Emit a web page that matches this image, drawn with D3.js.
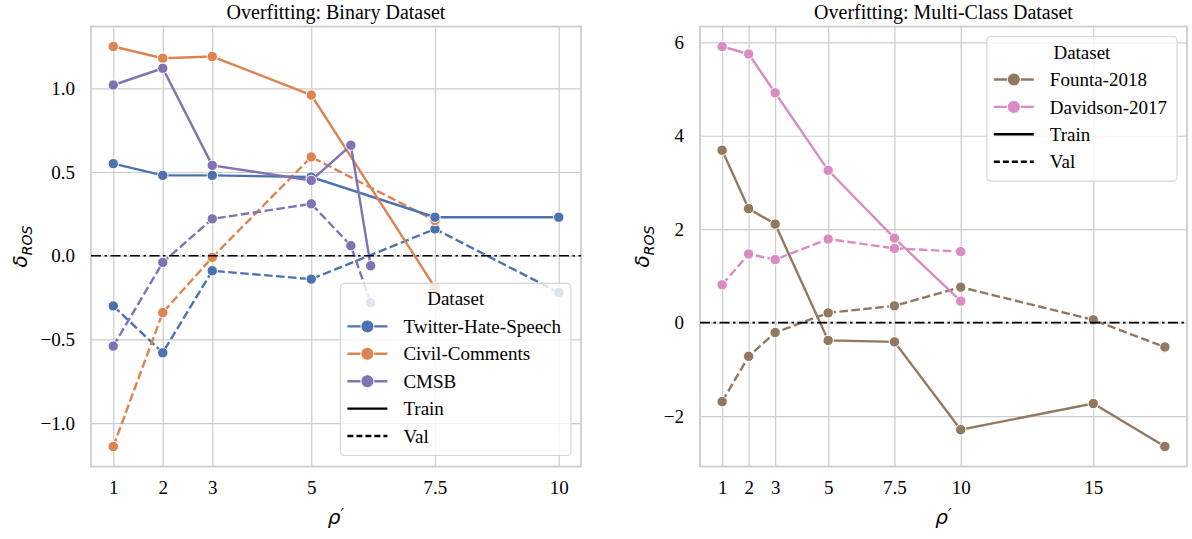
<!DOCTYPE html>
<head>
<meta charset="utf-8">
<style>
body { margin: 0; background: #fff; }
text { font-family: "Liberation Serif", "Times New Roman", serif; fill: #000; }
.tick line { stroke: #cccccc; stroke-width: 1.2px; }
.domain { display: none; }
.math { font-family: "DejaVu Sans", sans-serif; font-style: italic; }
</style>
</head>
<body>
<script src="https://cdn.jsdelivr.net/npm/d3@7"></script>
<script>

// binary dataset panel
var binaryTicks = [1, 2, 3, 5, 7.5, 10];
var binaryYTicks = [-1.0, -0.5, 0.0, 0.5, 1.0];

var twitterX = [1, 2, 3, 5, 7.5, 10];
var twitterTrain = [0.55, 0.48, 0.48, 0.47, 0.23, 0.23];
var twitterVal = [-0.30, -0.58, -0.09, -0.14, 0.16, -0.22];

var civilX = [1, 2, 3, 5, 7.5];
var civilTrain = [1.25, 1.18, 1.19, 0.96, -0.19];
var civilVal = [-1.14, -0.34, -0.01, 0.59, 0.21];

var cmsbX = [1, 2, 3, 5, 5.8, 6.2];
var cmsbTrain = [1.02, 1.12, 0.54, 0.45, 0.66, -0.06];
var cmsbVal = [-0.54, -0.04, 0.22, 0.31, 0.06, -0.28];

// multi-class dataset panel
var multiTicks = [1, 2, 3, 5, 7.5, 10, 15];
var multiYTicks = [-2, 0, 2, 4, 6];

var fountaX = [1, 2, 3, 5, 7.5, 10, 15, 17.7];
var fountaTrain = [3.69, 2.44, 2.11, -0.38, -0.41, -2.29, -1.73, -2.65];
var fountaVal = [-1.69, -0.72, -0.21, 0.21, 0.36, 0.76, 0.06, -0.52];

var davidsonX = [1, 2, 3, 5, 7.5, 10];
var davidsonTrain = [5.91, 5.75, 4.92, 3.26, 1.81, 0.46];
var davidsonVal = [0.81, 1.47, 1.35, 1.79, 1.59, 1.52];

var width = 1192, height = 539;

var svg = d3.select("body").append("svg")
    .attr("width", width)
    .attr("height", height);

function drawPanel(p) {
  var g = svg.append("g");
  var allX = [], allY = [];
  p.series.forEach(function(s) {
    allX = allX.concat(s.x);
    allY = allY.concat(s.train, s.val);
  });
  // 5% margins like matplotlib autoscale
  var xe = d3.extent(allX), ye = d3.extent(allY);
  var xp = (xe[1] - xe[0]) * 0.05, yp = (ye[1] - ye[0]) * 0.05;

  var x = d3.scaleLinear().domain([xe[0] - xp, xe[1] + xp]).range([p.left, p.right]);
  var y = d3.scaleLinear().domain([ye[0] - yp, ye[1] + yp]).range([p.bottom, p.top]);

  // grid + tick labels
  var xAxis = g.append("g")
      .attr("transform", "translate(0," + p.bottom + ")")
      .call(d3.axisBottom(x).tickValues(p.xTicks).tickSize(-(p.bottom - p.top)).tickPadding(14)
        .tickFormat(function(d) { return String(d); }));
  xAxis.selectAll("text").style("font-size", "19px").attr("dy", "0.71em");

  var yAxis = g.append("g")
      .attr("transform", "translate(" + p.left + ",0)")
      .call(d3.axisLeft(y).tickValues(p.yTicks).tickSize(-(p.right - p.left)).tickPadding(16)
        .tickFormat(function(d) {
          var s = p.yDec ? Math.abs(d).toFixed(1) : String(Math.abs(d));
          return (d < 0 ? "\u2212" : "") + s;
        }));
  yAxis.selectAll("text").style("font-size", "19px");
  g.selectAll(".tick text").attr("fill", "#000");
  g.selectAll("g[fill]").attr("font-family", null).attr("font-size", null);

  // frame
  g.append("rect")
      .attr("x", p.left).attr("y", p.top)
      .attr("width", p.right - p.left).attr("height", p.bottom - p.top)
      .attr("fill", "none").attr("stroke", "#cccccc").attr("stroke-width", 1.8);

  var line = d3.line();

  // val lines first, then train
  ["val", "train"].forEach(function(kind) {
    p.series.forEach(function(s) {
      var pts = s.x.map(function(xv, i) { return [x(xv), y(s[kind][i])]; });
      g.append("path")
          .attr("d", line(pts))
          .attr("fill", "none")
          .attr("stroke", s.color)
          .attr("stroke-width", 2.4)
          .attr("stroke-dasharray", kind === "val" ? "8.5,3.5" : null);
      g.selectAll(null).data(pts).enter().append("circle")
          .attr("cx", function(d) { return d[0]; })
          .attr("cy", function(d) { return d[1]; })
          .attr("r", 5.2)
          .attr("fill", s.color)
          .attr("stroke", "#fff")
          .attr("stroke-width", 1);
    });
  });

  // zero line
  g.append("line")
      .attr("x1", p.left).attr("x2", p.right)
      .attr("y1", y(0)).attr("y2", y(0))
      .attr("stroke", "#000").attr("stroke-width", 1.6)
      .attr("stroke-dasharray", "10,3.5,2.5,3.5");

  // title
  g.append("text")
      .attr("x", (p.left + p.right) / 2).attr("y", 19)
      .attr("text-anchor", "middle")
      .style("font-size", "20px")
      .text(p.title);

  // axis labels
  var xl = g.append("text").attr("class", "math")
      .attr("x", (p.left + p.right) / 2).attr("y", 524)
      .attr("text-anchor", "middle")
      .style("font-size", "20px");
  xl.append("tspan").text("\u03c1");
  xl.append("tspan").attr("dy", -4).style("font-size", "16px").text("\u2032");

  var yl = g.append("text").attr("class", "math")
      .attr("transform", "translate(" + p.ylabelX + "," + ((p.top + p.bottom) / 2) + ") rotate(-90)")
      .attr("text-anchor", "middle")
      .style("font-size", "20px");
  yl.append("tspan").text("\u03b4");
  yl.append("tspan").attr("dy", 5).style("font-size", "14px").text("ROS");

  // legend
  var items = p.series.map(function(s) { return {label: s.name, color: s.color, marker: true, dash: null}; });
  items.push({label: "Train", color: "#000", marker: false, dash: null});
  items.push({label: "Val", color: "#000", marker: false, dash: "6,3"});

  var leg = g.append("g");
  var box = leg.append("rect")
      .attr("fill", "#fff").attr("fill-opacity", 0.8)
      .attr("stroke", "#d6d6d6").attr("stroke-width", 1.2)
      .attr("rx", 4);
  var ttl = leg.append("text").style("font-size", "19px").attr("text-anchor", "middle").text("Dataset");
  var maxW = 0;
  items.forEach(function(it, i) {
    var cy = 43 + i * 27.4;
    leg.append("line")
        .attr("x1", 7).attr("x2", 47).attr("y1", cy).attr("y2", cy)
        .attr("stroke", it.color).attr("stroke-width", 2.4)
        .attr("stroke-dasharray", it.dash);
    if (it.marker) {
      leg.append("circle").attr("cx", 27).attr("cy", cy).attr("r", 6.5)
          .attr("fill", it.color).attr("stroke", "#fff").attr("stroke-width", 1);
    }
    var t = leg.append("text").attr("x", 63).attr("y", cy).attr("dy", "0.35em")
        .style("font-size", "19px").text(it.label);
    maxW = Math.max(maxW, t.node().getComputedTextLength());
  });
  var bw = maxW + 73, bh = 43 + (items.length - 1) * 27.4 + 19.5;
  box.attr("width", bw).attr("height", bh);
  ttl.attr("x", bw / 2).attr("y", 22);
  var lx = p.right - 10 - bw;
  var ly = p.legendLoc === "lower" ? p.bottom - 11 - bh : p.top + 10;
  leg.attr("transform", "translate(" + lx + "," + ly + ")");
}

drawPanel({
  title: "Overfitting: Binary Dataset",
  left: 91, right: 581, top: 26.5, bottom: 466.5,
  xTicks: binaryTicks, yTicks: binaryYTicks, yDec: true,
  ylabelX: 27, legendLoc: "lower",
  series: [
    {name: "Twitter-Hate-Speech", color: "#4c72b0", x: twitterX, train: twitterTrain, val: twitterVal},
    {name: "Civil-Comments", color: "#dd8452", x: civilX, train: civilTrain, val: civilVal},
    {name: "CMSB", color: "#8172b3", x: cmsbX, train: cmsbTrain, val: cmsbVal}
  ]
});

drawPanel({
  title: "Overfitting: Multi-Class Dataset",
  left: 700, right: 1187, top: 26.5, bottom: 466.5,
  xTicks: multiTicks, yTicks: multiYTicks, yDec: false,
  ylabelX: 649, legendLoc: "upper",
  series: [
    {name: "Founta-2018", color: "#937860", x: fountaX, train: fountaTrain, val: fountaVal},
    {name: "Davidson-2017", color: "#da8bc3", x: davidsonX, train: davidsonTrain, val: davidsonVal}
  ]
});

</script>
</body>
</html>
